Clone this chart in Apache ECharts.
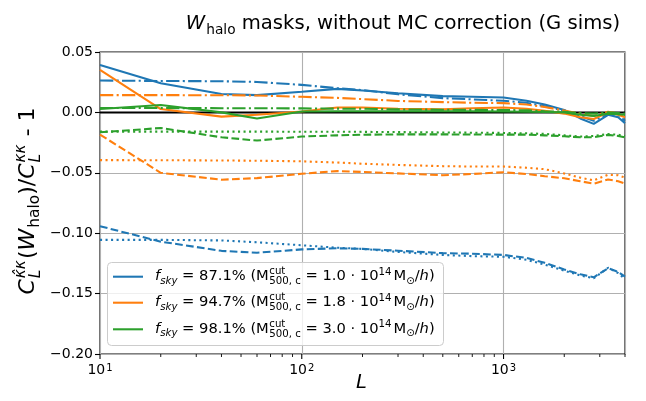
<!DOCTYPE html>
<html><head><meta charset="utf-8">
<script src="https://cdn.jsdelivr.net/npm/echarts@6.0.0/dist/echarts.min.js"></script>
<style>html,body{margin:0;padding:0;background:#fff}#c{width:646px;height:401px}</style>
</head><body><div id="c"></div>
<script>
// ---- data ----
const L = [10,20,40,60,100,150,200,300,500,700,1000,1300,1600,2000,2400,2800,3300,3700,4000];
const blueSolid   = [0.0393,0.0242,0.0152,0.0143,0.0171,0.0195,0.0182,0.0158,0.0135,0.0130,0.0124,0.0096,0.0065,0.0020,-0.0050,-0.0095,-0.0020,-0.0040,-0.0090];
const blueDashDot = [0.0264,0.0260,0.0258,0.0252,0.0228,0.0200,0.0185,0.0150,0.0118,0.0108,0.0096,0.0080,0.0050,0.0015,-0.0030,-0.0070,-0.0010,-0.0020,-0.0070];
const blueDashed  = [-0.0942,-0.1070,-0.1146,-0.1162,-0.1134,-0.1125,-0.1130,-0.1145,-0.1165,-0.1170,-0.1180,-0.1205,-0.1245,-0.1300,-0.1340,-0.1365,-0.1290,-0.1320,-0.1360];
const blueDotted  = [-0.1055,-0.1055,-0.1060,-0.1075,-0.1100,-0.1120,-0.1130,-0.1155,-0.1180,-0.1190,-0.1195,-0.1220,-0.1260,-0.1310,-0.1350,-0.1373,-0.1286,-0.1330,-0.1380];
const orangeSolid   = [0.0352,0.0028,-0.0035,-0.0020,0.0008,0.0041,0.0040,0.0030,0.0025,0.0035,0.0041,0.0030,0.0014,-0.0010,-0.0040,-0.0055,0.0000,-0.0020,-0.0040];
const orangeDashDot = [0.0143,0.0143,0.0142,0.0140,0.0129,0.0120,0.0110,0.0095,0.0085,0.0080,0.0077,0.0065,0.0045,0.0015,-0.0010,-0.0030,0.0006,-0.0010,-0.0030];
const orangeDashed  = [-0.0184,-0.0500,-0.0557,-0.0544,-0.0508,-0.0486,-0.0493,-0.0505,-0.0520,-0.0510,-0.0495,-0.0510,-0.0528,-0.0545,-0.0570,-0.0590,-0.0555,-0.0570,-0.0590];
const orangeDotted  = [-0.0395,-0.0396,-0.0398,-0.0400,-0.0405,-0.0415,-0.0425,-0.0435,-0.0445,-0.0448,-0.0448,-0.0458,-0.0470,-0.0505,-0.0540,-0.0563,-0.0516,-0.0520,-0.0540];
const greenSolid   = [0.0028,0.0061,0.0000,-0.0050,0.0008,0.0010,0.0010,0.0010,0.0010,0.0010,0.0008,0.0006,0.0004,0.0000,-0.0020,-0.0030,-0.0010,-0.0015,-0.0020];
const greenDashDot = [0.0036,0.0036,0.0035,0.0035,0.0033,0.0031,0.0030,0.0025,0.0022,0.0021,0.0020,0.0017,0.0010,0.0005,-0.0005,-0.0010,0.0000,-0.0005,-0.0010];
const greenDashed  = [-0.0165,-0.0129,-0.0206,-0.0233,-0.0200,-0.0190,-0.0185,-0.0182,-0.0182,-0.0183,-0.0184,-0.0184,-0.0190,-0.0198,-0.0206,-0.0206,-0.0186,-0.0195,-0.0206];
const greenDotted  = [-0.0159,-0.0159,-0.0159,-0.0159,-0.0160,-0.0160,-0.0161,-0.0163,-0.0166,-0.0168,-0.0170,-0.0173,-0.0178,-0.0190,-0.0200,-0.0195,-0.0180,-0.0185,-0.0195];
const zeroLine = [0, 0];
const zeroL = [10, 4000];
const yTicks = [-0.20,-0.15,-0.10,-0.05,0.00,0.05];
const xMajor = [10, 100, 1000];
const xMinor = [20,30,40,50,60,70,80,90,200,300,400,500,600,700,800,900,2000,3000,4000];
const fskyLabels = ['87.1','94.7','98.1'];
const mcutLabels = ['1.0','1.8','3.0'];

const C = {blue:'#1f77b4', orange:'#ff7f0e', green:'#2ca02c'};
const FONT = '"DejaVu Sans", "Liberation Sans", sans-serif';
const LW = 2.08;
const DASH = [7.7, 3.33], DOT = [2.08, 3.44], DASHDOT = [13.3, 3.33, 2.08, 3.33];

function mk(vals, color, type) {
  return {type:'line', data: L.map((l,i)=>[l, vals[i]]), symbol:'none', showSymbol:false,
    lineStyle:{color, width:LW, type, cap:'butt'}, itemStyle:{color}, silent:true,
    emphasis:{disabled:true}, animation:false, clip:true};
}
const series = [
  {type:'line', data: zeroL.map((l,i)=>[l, zeroLine[i]]), symbol:'none', lineStyle:{color:'#000', width:2}, silent:true, animation:false},
  mk(blueSolid, C.blue, 'solid'), mk(blueDashed, C.blue, DASH), mk(blueDotted, C.blue, DOT), mk(blueDashDot, C.blue, DASHDOT),
  mk(orangeSolid, C.orange, 'solid'), mk(orangeDashed, C.orange, DASH), mk(orangeDotted, C.orange, DOT), mk(orangeDashDot, C.orange, DASHDOT),
  mk(greenSolid, C.green, 'solid'), mk(greenDashed, C.green, DASH), mk(greenDotted, C.green, DOT), mk(greenDashDot, C.green, DASHDOT),
];

const chart = echarts.init(document.getElementById('c'), null, {renderer:'canvas'});
chart.setOption({
  backgroundColor:'#fff',
  animation:false,
  grid:{left:100, top:52, width:525, height:302, show:true, borderColor:'#000', borderWidth:1.1, backgroundColor:'transparent'},
  xAxis:{type:'log', logBase:10, min:10, max:4000,
    axisLine:{show:false}, axisTick:{show:false},
    splitLine:{show:true, lineStyle:{color:'#b0b0b0', width:1.1}},
    axisLabel:{margin:9, formatter:(v)=>{const e=Math.log10(v); if(Math.abs(e-Math.round(e))>1e-6) return ''; return '{a|10}{b|'+Math.round(e)+'}';},
      rich:{a:{fontSize:14, fontFamily:FONT, color:'#000'}, b:{fontSize:10, fontFamily:FONT, color:'#000', verticalAlign:'top', padding:[0,0,0,1]}}}},
  yAxis:{type:'value', min:yTicks[0], max:yTicks[yTicks.length-1], interval:0.05,
    axisLine:{show:false}, axisTick:{show:true, length:5, lineStyle:{color:'#000', width:1.1}},
    splitLine:{show:true, lineStyle:{color:'#b0b0b0', width:1.1}},
    axisLabel:{margin:7, fontSize:14, fontFamily:FONT, color:'#000',
      formatter:(v)=>(Math.abs(v)<1e-9?'0.00':v.toFixed(2)).replace('-','\u2212')}},
  series
});

// ---- text helpers (mathtext-like layout) ----
const mctx = document.createElement('canvas').getContext('2d');
function tw(t, s, it){ mctx.font=(it?'italic ':'')+s+'px "DejaVu Sans"'; return mctx.measureText(t).width; }
function txt(t, x, baseY, s, it, fill){
  return {type:'text', x, y: baseY - 0.35*s, silent:true, z:100,
    style:{text:t, font:(it?'italic ':'')+s+'px '+FONT, fill:fill||'#000', align:'left', verticalAlign:'middle'}};
}
function segWidth(seg, S){
  if (seg.stack) return Math.max(...seg.stack.map(q=>tw(q.t, q.s||S, q.it))) + (seg.after||0);
  return tw(seg.t, seg.s||S, seg.it) + (seg.after||0);
}
function mathRow(segs, x0, baseY, S){
  const out=[]; let x=x0;
  for (const seg of segs){
    x += (seg.before||0);
    if (seg.stack){ for (const q of seg.stack) out.push(txt(q.t, x, baseY+(q.dy||0), q.s||S, q.it)); }
    else out.push(txt(seg.t, x, baseY+(seg.dy||0), seg.s||S, seg.it));
    x += segWidth(seg, S);
  }
  return {els:out, width:x-x0};
}
function rowWidth(segs,S){ return segs.reduce((a,s)=>a+segWidth(s,S)+(s.before||0),0); }

const g = [];
// minor + major ticks on x axis
const y0px = chart.convertToPixel({yAxisIndex:0}, yTicks[0]);
for (const v of xMajor){ const px = chart.convertToPixel({xAxisIndex:0}, v);
  g.push({type:'line', silent:true, z:50, shape:{x1:px,y1:y0px,x2:px,y2:y0px+5}, style:{stroke:'#000', lineWidth:1.1}}); }
for (const v of xMinor){ const px = chart.convertToPixel({xAxisIndex:0}, v);
  g.push({type:'line', silent:true, z:50, shape:{x1:px,y1:y0px,x2:px,y2:y0px+3}, style:{stroke:'#000', lineWidth:0.9}}); }

// title
const TS = 19.6;
const titleSegs = [{t:'W', it:true, after:1}, {t:'halo', s:TS*0.7, dy:4}, {t:' masks, without MC correction (G sims)'}];
const tW = rowWidth(titleSegs, TS);
g.push(...mathRow(titleSegs, 403 - tW/2, 31, TS).els);

// x label
g.push(...mathRow([{t:'L', it:true}], 356, 390, 19.5).els);

// y label (rotated)
const YS = 22, ys = YS*0.7;
const ySegs = [{t:'C', it:true, after:1}, {stack:[{t:'\u03BA\u0302\u03BA', s:ys, dy:-10, it:true}, {t:'L', s:ys, dy:5, it:true}], after:1},
  {t:'(', after:0}, {t:'W', it:true, after:1}, {t:'halo', s:ys, dy:4.5}, {t:')/'}, {t:'C', it:true, after:1},
  {stack:[{t:'\u03BA\u03BA', s:ys, dy:-10, it:true}, {t:'L', s:ys, dy:5, it:true}], after:1}, {t:' - 1'}];
const yW = rowWidth(ySegs, YS);
const yl = mathRow(ySegs, -yW/2, 8, YS);
g.push({type:'group', x:28, y:201, rotation:Math.PI/2, z:100, children: yl.els});

// legend
const legendColors = [C.blue, C.orange, C.green];
g.push({type:'rect', z:90, silent:true, shape:{x:107.5, y:262.5, width:336, height:83, r:4},
  style:{fill:'rgba(255,255,255,0.8)', stroke:'#cccccc', lineWidth:1}});
const LS = 14.7, ls = 10.2;
const rowY = [276.7, 302.7, 329.3];
for (let i=0;i<3;i++){
  g.push({type:'line', z:95, silent:true, shape:{x1:113, y1:rowY[i], x2:143, y2:rowY[i]}, style:{stroke:legendColors[i], lineWidth:LW}});
  const segs = [{t:'f', it:true}, {t:'sky', s:ls, dy:3, it:true}, {t:' = '+fskyLabels[i]+'% (M'},
    {stack:[{t:'cut', s:ls, dy:-6.5}, {t:'500, c', s:ls, dy:3.5}], before:0.5}, {t:' = '+mcutLabels[i]+' \u00B7 10'},
    {t:'14', s:ls, dy:-6, after:2}, {t:'M'}, {t:'\u2299', s:ls, dy:3}, {t:'/'}, {t:'h', it:true}, {t:')'}];
  g.push(...mathRow(segs, 155, rowY[i]+5, LS).els);
}
chart.setOption({graphic: g});
</script></body></html>
